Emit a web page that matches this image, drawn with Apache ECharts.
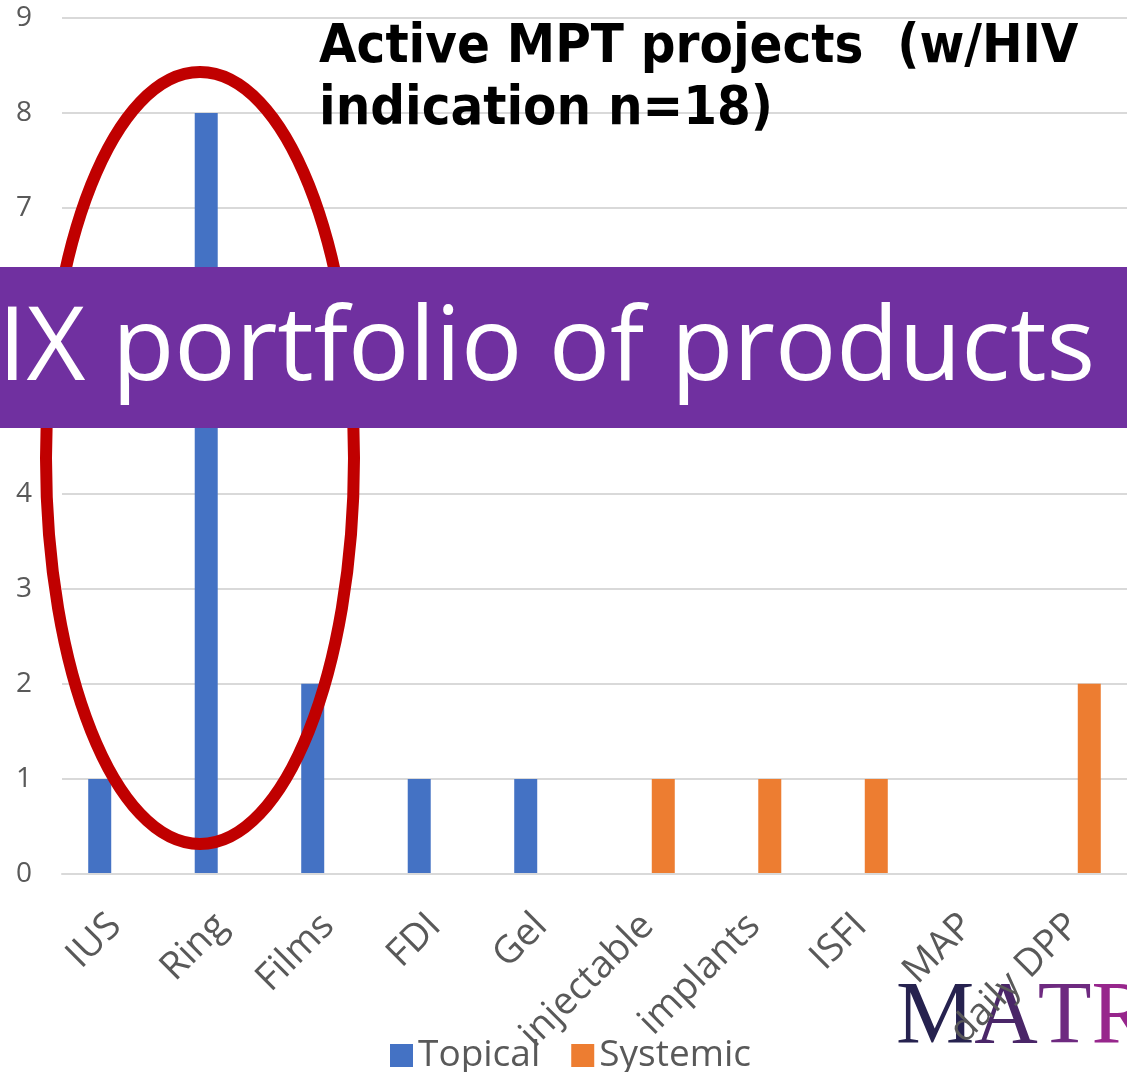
<!DOCTYPE html>
<html>
<head>
<meta charset="utf-8">
<script src="https://cdn.jsdelivr.net/npm/echarts@6/dist/echarts.min.js"></script>
<style>
  html, body { margin: 0; padding: 0; background: #fff; }
  #main { width: 1127px; height: 1072px; }
</style>
</head>
<body>
<div id="main"></div>
<script>
// data
var categories = ['IUS', 'Ring', 'Films', 'FDI', 'Gel', 'injectable', 'implants', 'ISFI', 'MAP', 'daily DPP'];
var topical = [1, 8, 2, 1, 1, 0, 0, 0, 0, 0];
var systemic = [0, 0, 0, 0, 0, 1, 1, 1, 0, 2];
var yTicks = [0, 1, 2, 3, 4, 5, 6, 7, 8, 9];

var myChart = echarts.init(document.getElementById('main'));

var option = {
    animation: false,
    title: {
        text: 'Active MPT projects  (w/HIV\nindication n=18)',
        left: 314,
        top: 12,
        textStyle: {
            fontFamily: 'DejaVu Sans Condensed',
            fontWeight: 'bold',
            fontSize: 54,
            lineHeight: 62,
            color: '#000'
        }
    },
    legend: {
        data: ['Topical', 'Systemic'],
        left: 385,
        top: 1032,
        itemWidth: 23,
        itemHeight: 23,
        itemGap: 31,
        icon: 'rect',
        textStyle: { fontFamily: 'Open Sans', fontSize: 37, color: '#595959' }
    },
    grid: { left: 62, top: 18, width: 1070, bottom: 198, containLabel: false },
    xAxis: {
        type: 'category',
        data: categories,
        z: 5,
        axisLine: { lineStyle: { color: '#D9D9D9', width: 2 } },
        axisTick: { show: false },
        axisLabel: {
            rotate: 45,
            interval: 0,
            margin: 46,
            fontFamily: 'Open Sans',
            fontSize: 38,
            color: '#595959'
        }
    },
    yAxis: {
        type: 'value',
        min: yTicks[0],
        max: yTicks[yTicks.length - 1],
        interval: 1,
        axisLine: { show: false },
        axisTick: { show: false },
        splitLine: { lineStyle: { color: '#D9D9D9', width: 2 } },
        axisLabel: { margin: 30, fontFamily: 'Open Sans', fontSize: 28, color: '#595959' }
    },
    series: [{
        name: 'Topical',
        type: 'bar',
        barWidth: 23,
        barGap: '35%',
        itemStyle: { color: '#4472C4' },
        data: topical
    }, {
        name: 'Systemic',
        type: 'bar',
        barWidth: 23,
        itemStyle: { color: '#ED7D31' },
        data: systemic
    }],
    graphic: [
        {   // red ring around the vaginal products
            type: 'ellipse',
            z: 10,
            shape: { cx: 200, cy: 458, rx: 154, ry: 386 },
            style: { fill: 'none', stroke: '#C00000', lineWidth: 12 }
        },
        {   // purple banner
            type: 'rect',
            z: 20,
            shape: { x: 0, y: 267, width: 1127, height: 161 },
            style: { fill: '#7030A0' }
        },
        {
            type: 'text',
            z: 21,
            left: -2,
            top: 300,
            style: {
                text: 'IX portfolio of products',
                fill: '#fff',
                font: '102px "Open Sans"'
            }
        },
        {   // MATR logo
            type: 'text',
            z: 1,
            left: 896,
            top: 975,
            style: {
                text: '{a|M}{b|A}{c|T}{d|R}',
                font: '88px "Liberation Serif"',
                rich: {
                    a: { fill: '#26224F', font: '88px "Liberation Serif"' },
                    b: { fill: '#4A2668', font: '88px "Liberation Serif"' },
                    c: { fill: '#6E2A80', font: '88px "Liberation Serif"' },
                    d: { fill: '#97268C', font: '88px "Liberation Serif"' }
                }
            }
        }
    ]
};

myChart.setOption(option);
</script>
</body>
</html>
